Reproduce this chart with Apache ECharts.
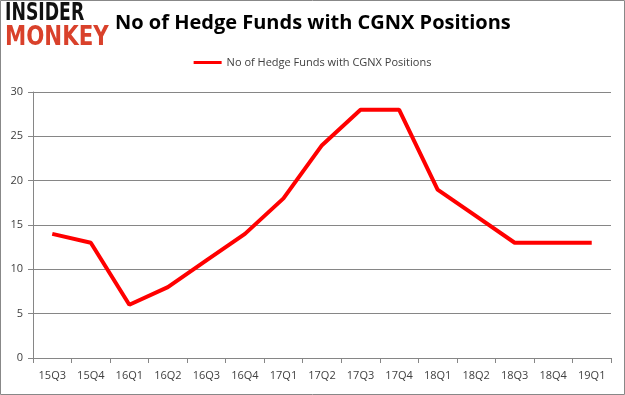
<!DOCTYPE html>
<html><head><meta charset="utf-8">
<script src="https://cdn.jsdelivr.net/npm/echarts@6/dist/echarts.min.js"></script>
<style>html,body{margin:0;padding:0;background:#fff}#c{width:625px;height:395px}</style>
</head><body><div id="c"></div>
<script>
const categories = ['15Q3','15Q4','16Q1','16Q2','16Q3','16Q4','17Q1','17Q2','17Q3','17Q4','18Q1','18Q2','18Q3','18Q4','19Q1'];
const values = [14,13,6,8,11,14,18,24,28,28,19,16,13,13,13];
const seriesName = 'No of Hedge Funds with CGNX Positions';
const titleText = 'No of Hedge Funds with CGNX Positions';
const yTicks = {min:0, max:30, interval:5};

const chart = echarts.init(document.getElementById('c'), null, {renderer:'canvas'});
chart.setOption({
  animation:false,
  backgroundColor:'#fff',
  graphic:[
    {type:'rect', shape:{x:0.5,y:0.5,width:624,height:394}, style:{fill:'none',stroke:'#888',lineWidth:1}},
    {type:'text', x:5, y:2, scaleX:0.72, style:{text:'INSIDER', font:'900 24px "DejaVu Sans"', fill:'#111', textVerticalAlign:'top'}},
    {type:'text', x:5, y:24, scaleX:0.79, style:{text:'MONKEY', font:'900 27px "DejaVu Sans"', fill:'#d9412b', textVerticalAlign:'top'}},
    {type:'text', x:115, y:13, style:{text:titleText, font:'bold 20px "Open Sans"', fill:'#000', textVerticalAlign:'top'}}
  ],
  legend:{
    data:[seriesName], top:52, left:'center',
    itemWidth:28, itemHeight:3, icon:'rect',
    textStyle:{color:'#404040', fontSize:11, fontFamily:'"Open Sans"'}
  },
  grid:{left:33, right:14, top:92, bottom:37, containLabel:false},
  xAxis:{
    type:'category', data:categories, boundaryGap:true,
    axisLine:{lineStyle:{color:'#868686'}},
    axisTick:{show:true, length:5, lineStyle:{color:'#868686'}},
    axisLabel:{color:'#404040', fontSize:11, fontFamily:'"Open Sans"', margin:12, interval:0}
  },
  yAxis:{
    type:'value', min:yTicks.min, max:yTicks.max, interval:yTicks.interval,
    axisLine:{show:true, lineStyle:{color:'#868686'}},
    axisTick:{show:true, length:5, lineStyle:{color:'#868686'}},
    splitLine:{lineStyle:{color:'#868686'}},
    axisLabel:{color:'#404040', fontSize:11, fontFamily:'"Open Sans"', margin:10}
  },
  series:[{
    name:seriesName, type:'line', data:values, symbol:'none',
    lineStyle:{color:'#ff0000', width:4}, itemStyle:{color:'#ff0000'}
  }]
});
</script></body></html>
